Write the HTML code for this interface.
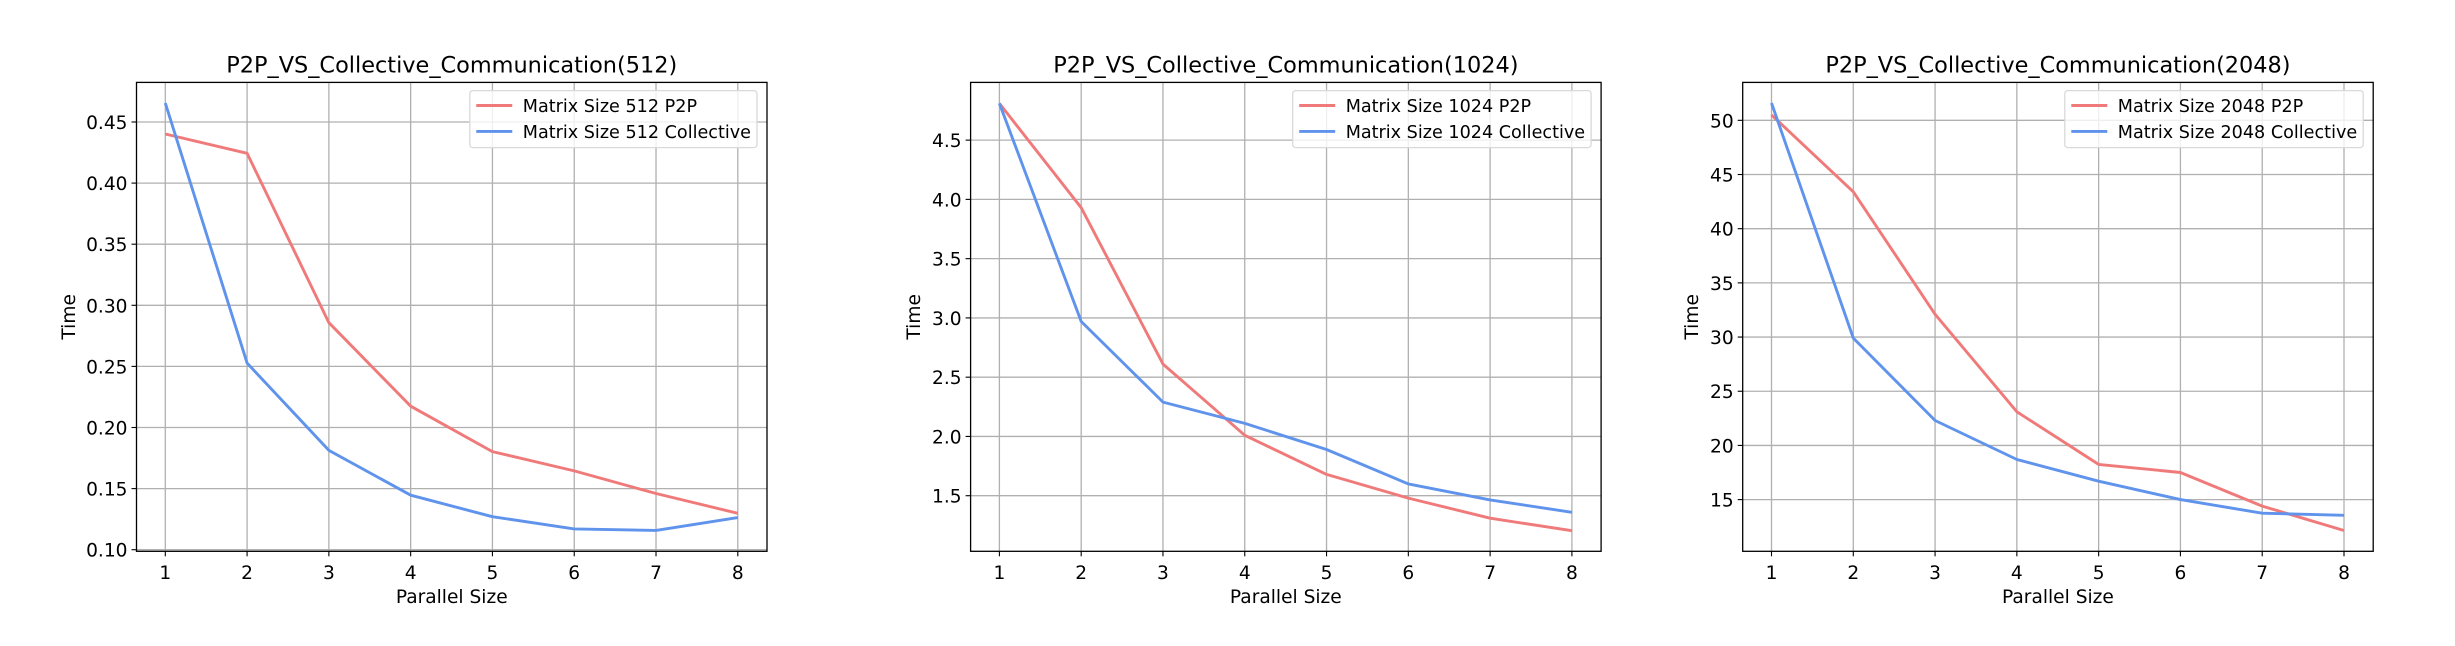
<!DOCTYPE html>
<html><head><meta charset="utf-8"><style>
html,body{margin:0;padding:0;background:#fff;}
svg{display:block;font-family:"DejaVu Sans","Liberation Sans",sans-serif;}
</style></head><body>
<svg id="fig" width="2455" height="646" viewBox="0 0 2455 646" xmlns="http://www.w3.org/2000/svg"></svg>
<script>
const categories = [1,2,3,4,5,6,7,8];
const sizes = ["512","1024","2048"];
const p2p512 = [0.4402,0.4244,0.2858,0.2174,0.1803,0.1645,0.1460,0.1298];
const coll512 = [0.4655,0.2527,0.1813,0.1446,0.1270,0.1170,0.1158,0.1263];
const p2p1024 = [4.81,3.93,2.61,2.01,1.68,1.48,1.31,1.205];
const coll1024 = [4.81,2.97,2.29,2.11,1.89,1.60,1.465,1.36];
const p2p2048 = [50.5,43.4,32.1,23.1,18.25,17.5,14.4,12.15];
const coll2048 = [51.6,29.9,22.3,18.7,16.7,15.0,13.75,13.55];
const yTicks512 = ["0.10","0.15","0.20","0.25","0.30","0.35","0.40","0.45"];
const yTicks1024 = ["1.5","2.0","2.5","3.0","3.5","4.0","4.5"];
const yTicks2048 = ["15","20","25","30","35","40","45","50"];
const yRange512 = [0.0987,0.4824];
const yRange1024 = [1.031,4.987];
const yRange2048 = [10.23,53.5];

const NS="http://www.w3.org/2000/svg";
const svgRoot=document.getElementById('fig');
function mk(tag,attrs,parent){const e=document.createElementNS(NS,tag);for(const k in attrs)e.setAttribute(k,attrs[k]);(parent||svgRoot).appendChild(e);return e;}

const panels=[
 {left:136.5,p2p:p2p512,coll:coll512,ticks:yTicks512,range:yRange512,size:sizes[0],timeX:68},
 {left:970.6,p2p:p2p1024,coll:coll1024,ticks:yTicks1024,range:yRange1024,size:sizes[1],timeX:913},
 {left:1742.7,p2p:p2p2048,coll:coll2048,ticks:yTicks2048,range:yRange2048,size:sizes[2],timeX:1691}
];
const W=630.5, axTop=82.4, axBottom=551.3;
const RED="#f07a7a", BLUE="#5f93ec";
const FT=18.6, FL=17.6, FTITLE=22.4;

panels.forEach((p,i)=>{
  const g=mk('g',{});
  
  
  const L=p.left,R=L+W;
  const x0=L+28.8, x1=R-29.2;
  const xs=v=>x0+(v-categories[0])*(x1-x0)/(categories[categories.length-1]-categories[0]);
  const ys=v=>axBottom-(v-p.range[0])*(axBottom-axTop)/(p.range[1]-p.range[0]);
  categories.forEach(c=>{
    const l=mk('line',{x1:xs(c),x2:xs(c),y1:axTop,y2:axBottom,stroke:'#b0b0b0','stroke-width':1.3},g);
    
    
    mk('line',{x1:xs(c),x2:xs(c),y1:axBottom,y2:axBottom+5,stroke:'#000','stroke-width':1.1},g);
    const t=mk('text',{x:xs(c),y:579,'text-anchor':'middle','font-size':FT,fill:'#000'},g);
    t.textContent=c;
    
    
  });
  p.ticks.forEach(tk=>{
    const v=parseFloat(tk),y=ys(v);
    const l=mk('line',{x1:L,x2:R,y1:y,y2:y,stroke:'#b0b0b0','stroke-width':1.3},g);
    
    
    mk('line',{x1:L-5,x2:L,y1:y,y2:y,stroke:'#000','stroke-width':1.1},g);
    const t=mk('text',{x:L-9,y:y+7,'text-anchor':'end','font-size':FT,fill:'#000'},g);
    t.textContent=tk;
    
    
  });
  [[p.p2p,RED,'p2p'],[p.coll,BLUE,'collective']].forEach(([arr,col,nm])=>{
    const pts=arr.map((v,k)=>xs(categories[k]).toFixed(1)+','+ys(v).toFixed(1)).join(' ');
    const pl=mk('polyline',{points:pts,fill:'none',stroke:col,'stroke-width':2.9,'stroke-linejoin':'round'},g);
    
    
  });
  const fr=mk('rect',{x:L,y:axTop,width:W,height:axBottom-axTop,fill:'none',stroke:'#000','stroke-width':1.3},g);
  
  
  const ti=mk('text',{x:L+W/2,y:72.5,'text-anchor':'middle','font-size':FTITLE,fill:'#000'},g);
  ti.textContent='P2P_VS_Collective_Communication('+p.size+')';
  
  
  const xl=mk('text',{x:L+W/2,y:603,'text-anchor':'middle','font-size':FT,fill:'#000'},g);
  xl.textContent='Parallel Size';
  
  
  const yl=mk('text',{x:0,y:0,'text-anchor':'middle','font-size':FT,fill:'#000',transform:'translate('+(p.timeX+7)+','+((axTop+axBottom)/2)+') rotate(-90)'},g);
  yl.textContent='Time';
  
  
  const lg=mk('g',{},g);
  
  
  const box=mk('rect',{x:0,y:90.6,width:10,height:57,rx:3,fill:'#fff','fill-opacity':0.8,stroke:'#d9d9d9','stroke-width':1.3},lg);
  const labels=['Matrix Size '+p.size+' P2P','Matrix Size '+p.size+' Collective'];
  const texts=[];
  labels.forEach((lb,k)=>{
    const y=105.5+k*25.9;
    const sw=mk('line',{x1:0,x2:36,y1:y,y2:y,stroke:k?BLUE:RED,'stroke-width':2.9},lg);
    
    
    const t=mk('text',{x:0,y:y+6.5,'font-size':FL,fill:'#000'},lg);
    t.textContent=lb;
    
    
    texts.push([sw,t]);
  });
  let tw=0;
  texts.forEach(([s,t])=>{let w=0;try{w=t.getComputedTextLength();}catch(e){w=0;}tw=Math.max(tw,w);});
  if(!tw) tw=(p.size.length>3?235:225);
  const bw=tw+59, bx=R-10-bw;
  box.setAttribute('x',bx); box.setAttribute('width',bw);
  texts.forEach(([s,t])=>{s.setAttribute('x1',bx+6.5);s.setAttribute('x2',bx+42.5);t.setAttribute('x',bx+53);});
});
</script>
</body></html>
